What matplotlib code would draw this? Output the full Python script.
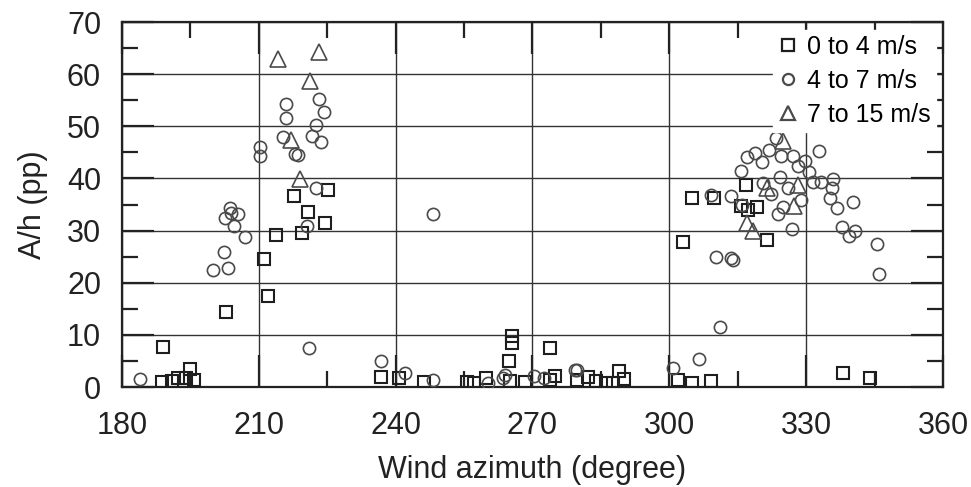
import matplotlib.pyplot as plt
from matplotlib.ticker import MultipleLocator

plt.rcParams['font.family'] = ['Liberation Sans', 'DejaVu Sans']

# 0 to 4 m/s
az_low = [189.1, 202.7, 212.1, 211.1, 213.8, 219.4, 220.8, 224.6, 217.8, 225.1,
          194.9, 195.8, 188.8, 190.9, 192.3, 194.0,
          236.7, 240.8, 246.3, 255.6, 257.2, 259.9, 265.1, 264.8, 265.6, 265.6,
          273.8, 268.4, 275.0, 273.8, 279.8, 282.2, 284.0, 286.2, 287.7, 289.0, 290.1,
          302.0, 304.9, 309.1, 338.0, 343.9,
          304.9, 309.8, 303.1, 316.8, 319.2, 315.7, 317.2, 321.3]
ah_low = [7.7, 14.3, 17.5, 24.5, 29.2, 29.6, 33.6, 31.4, 36.6, 37.8,
          3.5, 1.3, 0.9, 1.2, 1.7, 1.8,
          1.9, 1.8, 1.0, 1.0, 0.8, 1.8, 1.2, 5.0, 8.4, 9.8,
          7.5, 1.0, 2.2, 1.3, 1.3, 1.9, 1.2, 0.8, 0.8, 3.1, 1.5,
          1.3, 0.8, 1.2, 2.6, 1.7,
          36.3, 36.2, 27.9, 38.7, 34.6, 34.7, 33.9, 28.2]

# 4 to 7 m/s
az_mid = [183.9, 221.1, 199.9, 203.2, 202.3, 207.0, 204.6, 202.5, 203.7, 203.9,
          205.5, 220.5,
          215.9, 216.0, 215.3, 223.1, 224.3, 222.5, 221.6, 223.6, 217.9, 218.5,
          210.3, 210.3, 222.5,
          236.7, 242.1, 248.1, 248.2, 260.3, 263.6, 264.0, 270.3, 272.6, 279.3, 279.8,
          300.9, 306.4, 311.2, 310.2, 313.6, 314.0, 346.0,
          323.4, 332.9, 317.1, 318.8, 320.4, 321.9, 324.4, 327.2, 329.7, 328.3,
          330.6, 315.6, 324.3, 320.6, 326.1, 322.2, 331.4, 333.3, 335.8, 335.6,
          335.2, 336.7, 340.2, 328.8, 325.0, 323.9, 315.9, 313.5, 309.1, 326.8,
          337.9, 339.3, 340.7, 345.6]
ah_mid = [1.5, 7.5, 22.4, 22.8, 25.9, 28.7, 30.9, 32.5, 34.3, 33.3,
          33.2, 30.9,
          54.3, 51.5, 48.0, 55.2, 52.7, 50.2, 48.1, 47.0, 44.6, 44.5,
          46.0, 44.4, 38.2,
          5.0, 2.6, 1.3, 33.2, 0.8, 1.8, 2.3, 2.1, 1.7, 3.3, 3.2,
          3.6, 5.3, 11.6, 24.9, 24.7, 24.4, 21.7,
          47.7, 45.3, 44.1, 44.8, 43.2, 45.5, 44.3, 44.3, 43.4, 42.3,
          41.3, 41.5, 40.3, 39.2, 38.1, 37.0, 39.4, 39.4, 39.9, 38.1,
          36.2, 34.3, 35.4, 35.9, 34.6, 33.2, 34.9, 36.6, 36.8, 30.4,
          30.7, 29.0, 29.9, 27.4]

# 7 to 15 m/s
az_high = [214.3, 223.2, 221.3, 217.1, 219.0,
           325.0, 328.3, 321.5, 327.4, 317.1, 318.3]
ah_high = [63.0, 64.3, 58.6, 47.4, 39.8,
           47.2, 38.7, 38.1, 34.7, 31.5, 30.0]

fig = plt.figure(figsize=(9.71, 4.87), dpi=100)
ax = fig.add_axes([0.1256, 0.2053, 0.8456, 0.7495])

ax.plot(az_low, ah_low, 's', ms=8.3, mfc='none', mec='#1e1e1e', mew=1.5,
        label='0 to 4 m/s', zorder=3)
ax.plot(az_mid, ah_mid, 'o', ms=8.8, mfc='none', mec='#4a4a4a', mew=1.2,
        label='4 to 7 m/s', zorder=3)
ax.plot(az_high, ah_high, '^', ms=11, mfc='none', mec='#4a4a4a', mew=1.2,
        label='7 to 15 m/s', zorder=3)

ax.set_xlim(180, 360)
ax.set_ylim(0, 70)
ax.xaxis.set_major_locator(MultipleLocator(30))
ax.xaxis.set_minor_locator(MultipleLocator(15))
ax.yaxis.set_major_locator(MultipleLocator(10))
ax.yaxis.set_minor_locator(MultipleLocator(5))
ax.tick_params(which='both', direction='in', top=True, right=True,
               width=1.6, color='#222222')
ax.tick_params(which='major', length=23, labelsize=22, labelcolor='#222222')
ax.tick_params(axis='x', which='major', pad=17)
ax.tick_params(axis='y', which='major', pad=15)
ax.tick_params(which='minor', length=11.5)
ax.grid(True, which='major', color='#333333', lw=1.0, zorder=0)
for s in ax.spines.values():
    s.set_linewidth(1.6)
    s.set_color('#222222')

ax.set_xlabel('Wind azimuth (degree)', fontsize=22, color='#222222', labelpad=10)
ax.set_ylabel('A/h (pp)', fontsize=22, color='#222222', labelpad=14)

leg = ax.legend(loc='upper right', fontsize=18, frameon=True, facecolor='white',
                edgecolor='white', framealpha=1, handletextpad=0.35,
                handlelength=0.8, borderpad=0.2, labelspacing=0.4,
                borderaxespad=0.3, fancybox=False)
for h, ms in zip(leg.legend_handles, [9, 8, 10]):
    h.set_markersize(ms)
    h.set_markeredgewidth(1.6)

fig.savefig('out.png', dpi=100)
